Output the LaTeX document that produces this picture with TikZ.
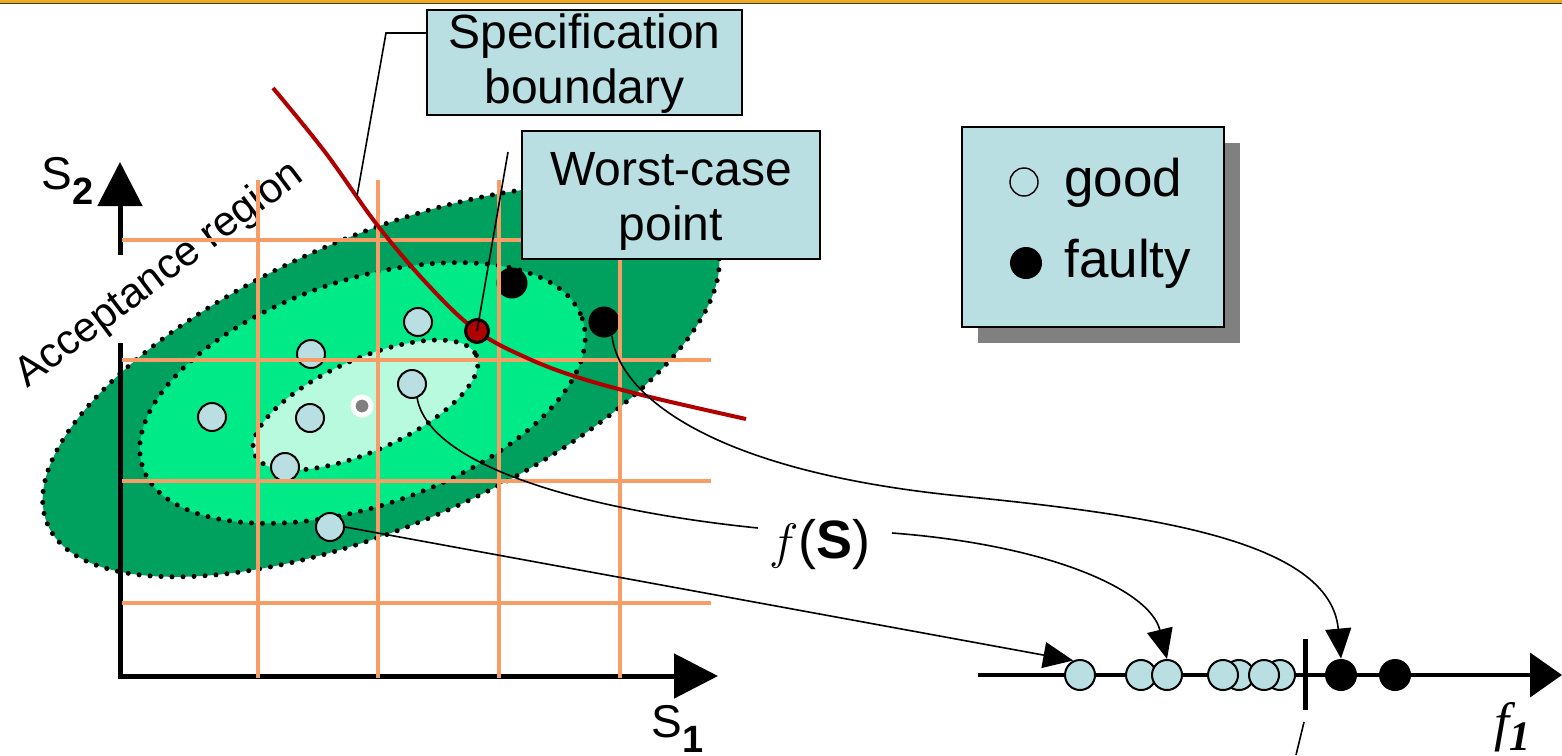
\documentclass[tikz,border=0pt]{standalone}
\usepackage{fontspec}
\setmainfont{Liberation Sans}
\newfontfamily\seriffont{Liberation Serif}
\usetikzlibrary{arrows.meta}
\definecolor{dgreen}{RGB}{0,161,94}
\definecolor{mgreen}{RGB}{0,234,136}
\definecolor{lgreen}{RGB}{184,250,222}
\definecolor{ptblue}{RGB}{185,223,227}
\definecolor{gridor}{RGB}{249,157,102}
\definecolor{specred}{RGB}{176,0,0}
\definecolor{topgold}{RGB}{240,168,30}
\definecolor{shadowgray}{RGB}{128,128,128}
\begin{document}
\begin{tikzpicture}[x=0.5pt,y=-0.5pt,
  pt/.style={circle,draw=black,line width=1pt,fill=ptblue,minimum size=14pt,inner sep=0pt},
  badpt/.style={circle,fill=black,minimum size=15.5pt,inner sep=0pt},
  dotbd/.style={draw=black,line width=2.5pt,line cap=round,dash pattern=on 0pt off 5.5pt},
  gridl/.style={draw=gridor,line width=2.1pt},
  axl/.style={line width=2.5pt},
  conn/.style={line width=0.8pt},
  tipbig/.style={-{Triangle[length=22pt,width=22pt]}},
  tipf/.style={-{Triangle[length=16pt,width=22pt]}},
  tipsmall/.style={-{Triangle[length=15pt,width=13pt]}},
  lbox/.style={draw=black,line width=1pt,fill=ptblue,inner sep=0pt},
  ltext/.style={inner sep=0pt,align=center,font=\fontsize{24}{27.5}\selectfont}]

\useasboundingbox (0,0) rectangle (1562,755);
\fill[white] (0,0) rectangle (1562,755);
\fill[topgold] (0,0) rectangle (1562,2.5);
\fill[black!75] (0,2.5) rectangle (1562,4);

% ellipses
\path[fill=dgreen,dotbd,rotate around={23.3:(381,381)}] (381,381) ellipse [x radius=363, y radius=145];
\path[fill=mgreen,dotbd,rotate around={18.7:(362.5,393)}] (362.5,393) ellipse [x radius=232, y radius=113];
\path[fill=lgreen,dotbd,rotate around={24.1:(365.5,405)}] (365.5,405) ellipse [x radius=121.5, y radius=46];
\node[circle,fill=shadowgray,draw=white,line width=2.5pt,minimum size=9pt,inner sep=0pt] (ctr) at (362,406) {};

% axes
\draw[axl,line join=miter,tipbig] (120,343) -- (120,676) -- (718,676);
\draw[axl,tipbig] (120,255) -- (120,162);
\node[anchor=base west,inner sep=0pt,font=\fontsize{23}{23}\selectfont] (s2l) at (41,189) {S\raisebox{-7.5pt}{\fontsize{19}{19}\selectfont\bfseries 2}};
\node[anchor=base west,inner sep=0pt,font=\fontsize{23}{23}\selectfont] (s1l) at (651,737) {S\raisebox{-7.5pt}{\fontsize{19}{19}\selectfont\bfseries 1}};

\node[rotate=37,inner sep=0pt,font=\fontsize{21}{21}\selectfont] (acc) at (160,275) {Acceptance region};

% sample points
\node[pt] (g1) at (418,322) {};
\node[pt] (g2) at (311,354) {};
\node[pt] (g3) at (212,417) {};
\node[pt] (g4) at (310,418) {};
\node[pt] (g5) at (412,384) {};
\node[pt] (g6) at (285,467) {};
\node[pt] (g7) at (330,527) {};
\node[badpt] (f1) at (512,283) {};
\node[badpt] (f2) at (604,322) {};

% grid
\foreach \x in {258,378,499,620} \draw[gridl] (\x,180) -- (\x,678);
\foreach \y in {240,360,481,603} \draw[gridl] (122,\y) -- (711,\y);

% specification boundary
\draw[specred,line width=2pt] plot[smooth,tension=0.6] coordinates {(273,88) (325,152) (378,226) (430,287) (477,331) (527,358) (580,378) (650,397) (746,419)};
\node[circle,fill=specred,draw=black,line width=1.5pt,minimum size=11.5pt,inner sep=0pt] (wp) at (477,331) {};

% f axis
\coordinate (fst) at (978,675);
\coordinate (fen) at (1562,675);
\draw[line width=2pt,tipf] (fst) -- (fen);
\draw[line width=2.5pt] (1305,639) -- (1305,710);
\draw[line width=0.8pt] (1304,722) -- (1296,755);
\node[pt,minimum size=15pt] (fa1) at (1080,675) {};
\node[pt,minimum size=15pt] (fa2) at (1141,675) {};
\node[pt,minimum size=15pt] (fa3) at (1167,675) {};
\node[pt,minimum size=15pt] (fa5) at (1239,675) {};
\node[pt,minimum size=15pt] (fa4) at (1223,675) {};
\node[pt,minimum size=15pt] (fa7) at (1280,675) {};
\node[pt,minimum size=15pt] (fa6) at (1264,675) {};
\node[badpt,minimum size=16pt] (fb1) at (1341,675) {};
\node[badpt,minimum size=16pt] (fb2) at (1395,675) {};
\node[anchor=base west,inner sep=0pt,font=\fontsize{27}{27}\selectfont\seriffont\itshape] (f1l) at (1494,740) {f\raisebox{-5pt}{\fontsize{21}{21}\selectfont\bfseries 1}};

% f(s) label
\node[inner sep=0pt,font=\fontsize{27}{27}\selectfont] (fs) at (820,545) {$f$(\textbf{S})};
\coordinate (fsL) at (758,528);
\coordinate (fsR) at (892,533);

% connectors
\draw[conn,tipsmall] (g7.east) -- (fa1.115);
\draw[conn] (g5.-70) .. controls (430,470) and (600,512) .. (fsL);
\draw[conn,tipsmall] (fsR) .. controls (1050,545) and (1150,590) .. (fa3.north);
\draw[conn,tipsmall] (f2.-60) .. controls (618,390) and (700,470) .. (960,496) .. controls (1150,515) and (1330,540) .. (fb1.north);

% callouts
\node[lbox,minimum width=157.5pt,minimum height=52.5pt] (sb) at (584.5,62.5) {};
\node[ltext] (sbt) at (584.5,64) {Specification\\boundary};
\coordinate (sp1) at (427,33);
\coordinate (sp2) at (357,196);
\draw[conn] (sp1) -- (386,33) -- (sp2);
\node[lbox,minimum width=149pt,minimum height=64pt] (wb) at (671,195) {};
\node[ltext] (wbt) at (671,201) {Worst-case\\point};
\coordinate (wc1) at (508,152);
\draw[conn] (wp.center) -- (wc1);

% legend
\node[fill=shadowgray,minimum width=131pt,minimum height=100pt,inner sep=0pt] (lgs) at (1109,243) {};
\node[lbox,minimum width=131pt,minimum height=100pt] (lg) at (1093,227) {};
\node[circle,draw=black,line width=0.7pt,minimum size=14pt,inner sep=0pt] (lgo) at (1024,182) {};
\node[circle,fill=black,minimum size=16pt,inner sep=0pt] (lgb) at (1026,263) {};
\node[anchor=west,inner sep=0pt,font=\fontsize{26.5}{30}\selectfont] (lgt1) at (1064,183) {good};
\node[anchor=west,inner sep=0pt,font=\fontsize{26.5}{30}\selectfont] (lgt2) at (1064,264) {faulty};
\end{tikzpicture}
\end{document}
